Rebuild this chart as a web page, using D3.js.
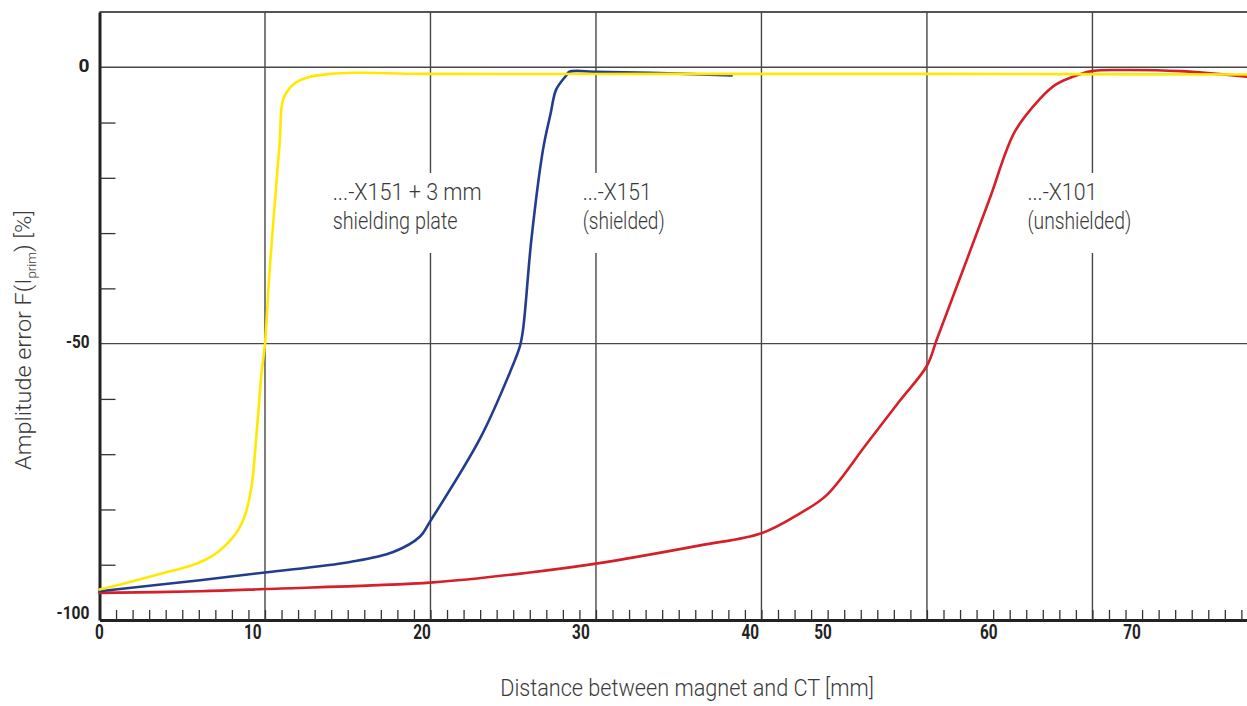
<!DOCTYPE html>
<html>
<head>
<meta charset="utf-8">
<script src="https://cdn.jsdelivr.net/npm/d3@7"></script>
<style>
  html, body { margin: 0; padding: 0; background: #fff; }
  svg { display: block; }
</style>
</head>
<body>
<svg id="chart" width="1247" height="706"></svg>
<script>
// ---------------- data (distance in grid units, amplitude error in %) ----------------
const yellowDist = [0, 1.6, 4.26, 5.5, 6.4, 7.2, 7.9, 8.4, 8.8, 9.2, 9.5, 9.8, 10.0, 10.27, 10.66, 10.9, 11.1, 11.71, 12.52, 13.93, 15.54, 19.55, 35, 50, 69.34];
const yellowErr  = [-94.5, -93.3, -91.2, -90.2, -89.1, -87.6, -85.6, -83.6, -81.0, -75.6, -65.9, -55.1, -50, -37.1, -22.1, -13.1, -5.8, -3.1, -1.9, -1.2, -1.0, -1.2, -1.2, -1.2, -1.3];

const blueDist = [0, 6.07, 10, 15.14, 17.75, 19.37, 19.97, 22.99, 24.8, 25.41, 25.6, 26.1, 26.8, 27.25, 27.6, 28.2, 28.4, 30, 33.3, 38.2];
const blueErr  = [-94.8, -92.8, -91.4, -89.5, -87.7, -84.9, -82.2, -67.2, -55.2, -50.4, -47.3, -31.1, -14.9, -8.5, -4.0, -1.5, -0.8, -0.8, -1.0, -1.5];

const redDist = [0, 6.07, 10, 20.15, 26.0, 30.0, 36.3, 40.0, 42.33, 43.94, 46.36, 48.37, 50.0, 50.6, 52.4, 53.8, 55.3, 56.8, 57.8, 59.2, 60.05, 61.7, 65.3, 69.34];
const redErr  = [-95.1, -94.8, -94.4, -93.2, -91.4, -89.8, -86.5, -84.3, -80.7, -77.4, -68.1, -60.3, -54.0, -49.2, -34.9, -23.7, -11.7, -5.8, -3.1, -1.3, -0.65, -0.5, -0.7, -1.7];

// tick labels as printed in the original, and where they sit along the axis
const xTickLabels = ["0", "10", "20", "30", "40", "50", "60", "70"];
const xTickLabelAt = [0, 9.26, 19.49, 29.09, 39.32, 43.72, 53.73, 62.39];
const yTickLabels = ["0", "-50", "-100"];
const yTickValues = [0, -50, -100];
const xGridValues = [10, 20, 30, 40, 50, 60];
const yGridValues = [0, -50];
const xMinorTicks = d3.range(1, 70);
const yMinorTicks = [-90, -80, -70, -60, -40, -30, -20, -10];

const seriesNames = ["...-X101 (unshielded)", "...-X151 (shielded)", "...-X151 + 3 mm shielding plate"];

// ---------------- layout ----------------
const W = 1247, H = 706;
const svg = d3.select("#chart");
const x = d3.scaleLinear().domain([0, 69.34]).range([99.5, 1247]);
const y = d3.scaleLinear().domain([-100, 10]).range([620, 12]);

const FONT_LIGHT = "Roboto, 'Liberation Sans', 'DejaVu Sans', sans-serif";
const FONT_BOLD = "'Liberation Sans Narrow', Roboto, 'Liberation Sans', sans-serif";
const GRID = "#474747";

function squeeze(textSel, target) {
  const w = textSel.node().getBBox().width;
  if (w > 0) textSel.attr("transform", `scale(${target / w},1)`);
}

// top border
svg.append("line")
  .attr("x1", x(0)).attr("x2", W)
  .attr("y1", y(10)).attr("y2", y(10))
  .attr("stroke", "#555").attr("stroke-width", 2);

// grid
const grid = svg.append("g");
grid.selectAll("line.v").data(xGridValues).join("line")
  .attr("x1", d => x(d)).attr("x2", d => x(d))
  .attr("y1", y(10)).attr("y2", y(-100))
  .attr("stroke", GRID).attr("stroke-width", 1.4);
grid.selectAll("line.h").data(yGridValues).join("line")
  .attr("x1", x(0)).attr("x2", W)
  .attr("y1", d => y(d)).attr("y2", d => y(d))
  .attr("stroke", GRID).attr("stroke-width", 1.4);

// annotations (with white knock-out behind them, as in the original)
const annotations = [
  { lines: ["...-X151 + 3 mm", "shielding plate"], widths: [149, 125], at: [14.09, -24.0] },
  { lines: ["...-X151", "(shielded)"], widths: [69, 82], at: [29.2, -24.0] },
  { lines: ["...-X101", "(unshielded)"], widths: [70, 104], at: [56.07, -24.0] }
];
const annG = svg.append("g");
annotations.forEach(a => {
  const g = annG.append("g").attr("transform", `translate(${x(a.at[0])},${y(a.at[1])})`);
  const bg = g.append("rect").attr("fill", "#fff");
  let maxW = 0;
  a.lines.forEach((t, i) => {
    const lg = g.append("g").attr("transform", `translate(0,${i * 29})`);
    const txt = lg.append("text")
      .attr("font-family", FONT_LIGHT).attr("font-weight", 300)
      .attr("font-size", 24).attr("fill", "#3a3a3a")
      .text(t);
    squeeze(txt, a.widths[i]);
    maxW = Math.max(maxW, a.widths[i]);
  });
  bg.attr("x", -6).attr("y", -27).attr("width", maxW + 12).attr("height", 80);
});

// axes with minor ticks
const xAxis = d3.axisBottom(x).tickValues(xMinorTicks).tickSizeInner(-10).tickSizeOuter(0).tickFormat("");
const gx = svg.append("g").attr("transform", `translate(0,${y(-100)})`).call(xAxis);
gx.select(".domain").attr("stroke", "#222").attr("stroke-width", 3);
gx.selectAll(".tick line").attr("stroke", "#333").attr("stroke-width", 1.3);

const yAxis = d3.axisLeft(y).tickValues(yMinorTicks).tickSizeInner(-16).tickSizeOuter(0).tickFormat("");
const gy = svg.append("g").attr("transform", `translate(${x(0)},0)`).call(yAxis);
gy.select(".domain").attr("stroke", "#222").attr("stroke-width", 3);
gy.selectAll(".tick line").attr("stroke", "#333").attr("stroke-width", 1.3);

// curves
const line = d3.line().x(d => x(d[0])).y(d => y(d[1])).curve(d3.curveCatmullRom.alpha(0.5));
const series = [
  { name: seriesNames[0], dist: redDist, err: redErr, color: "#d5202a" },
  { name: seriesNames[1], dist: blueDist, err: blueErr, color: "#233d8e" },
  { name: seriesNames[2], dist: yellowDist, err: yellowErr, color: "#ffe900" }
];
svg.append("g").selectAll("path").data(series).join("path")
  .attr("d", s => line(s.dist.map((d, i) => [d, s.err[i]])))
  .attr("fill", "none")
  .attr("stroke", s => s.color)
  .attr("stroke-width", 2.6)
  .attr("stroke-linejoin", "round")
  .attr("stroke-linecap", "round");

// x tick labels
const xl = svg.append("g");
xTickLabels.forEach((t, i) => {
  const g = xl.append("g").attr("transform", `translate(${x(xTickLabelAt[i])},638.5)`);
  const txt = g.append("text").attr("text-anchor", "middle")
    .attr("font-family", FONT_BOLD).attr("font-weight", 700)
    .attr("font-size", 21).attr("fill", "#222").text(t);
  squeeze(txt, t.length * 8.8);
});

// y tick labels
const yl = svg.append("g");
const yLabelShift = [4.5, 4.5, -1.5];
const yLabelW = [11, 23.6, 33];
yTickLabels.forEach((t, i) => {
  const g = yl.append("g").attr("transform", `translate(89.5,${y(yTickValues[i]) + yLabelShift[i]})`);
  const txt = g.append("text").attr("text-anchor", "end")
    .attr("font-family", FONT_BOLD).attr("font-weight", 700)
    .attr("font-size", 18.5).attr("fill", "#222").text(t);
  squeeze(txt, yLabelW[i]);
});

// axis titles
const xt = svg.append("g").attr("transform", `translate(687,696)`);
const xtTxt = xt.append("text").attr("text-anchor", "middle")
  .attr("font-family", FONT_LIGHT).attr("font-weight", 300)
  .attr("font-size", 23).attr("fill", "#3a3a3a")
  .text("Distance between magnet and CT [mm]");
squeeze(xtTxt, 374);

const yt = svg.append("g").attr("transform", `translate(31,340) rotate(-90)`);
const ytTxt = yt.append("text").attr("text-anchor", "middle")
  .attr("font-family", FONT_LIGHT).attr("font-weight", 300)
  .attr("font-size", 23).attr("fill", "#3a3a3a");
ytTxt.append("tspan").text("Amplitude error F(I");
ytTxt.append("tspan").attr("font-size", 13).attr("dy", 5).text("prim");
ytTxt.append("tspan").attr("dy", -5).text(") [%]");
squeeze(ytTxt, 260);
</script>
</body>
</html>
